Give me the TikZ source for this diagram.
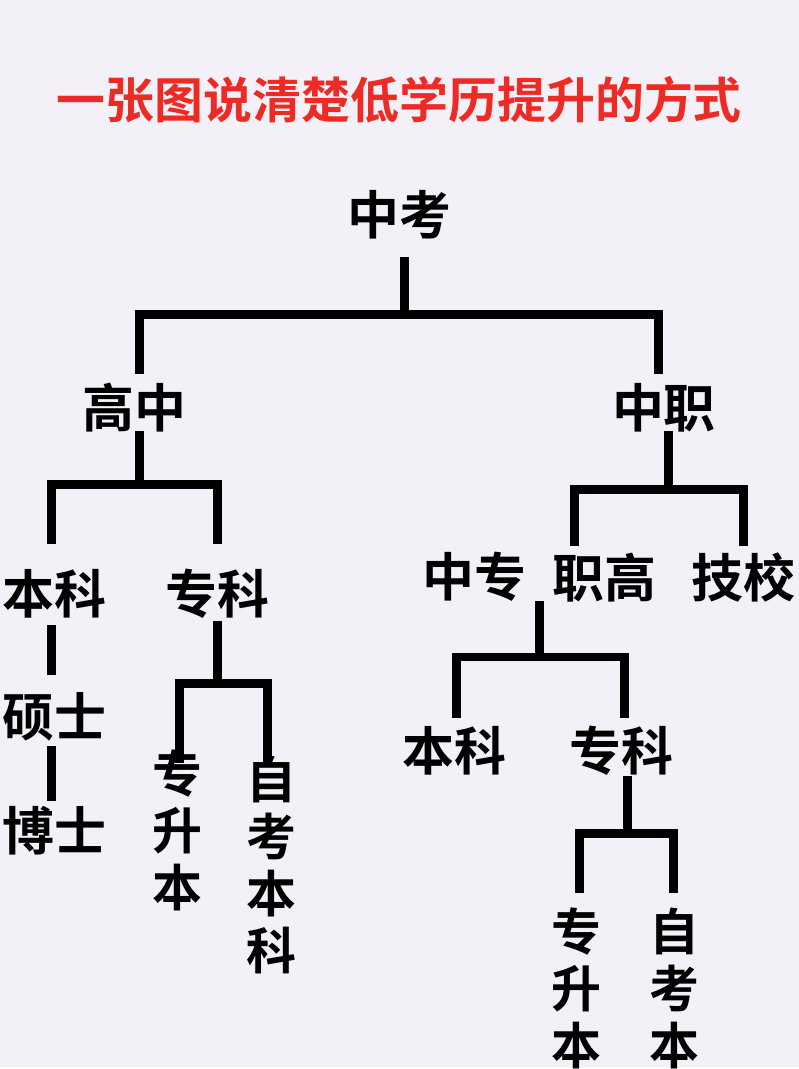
\documentclass[tikz,border=0pt]{standalone}
\usepackage{fontspec}
\setmainfont{Noto Sans CJK SC}
\newfontfamily\cjkbold{Noto Sans CJK SC Bold}
\usetikzlibrary{positioning}
\definecolor{bgcol}{HTML}{F3F0F8}
\definecolor{titlered}{HTML}{EE2A24}
\tikzset{
  label/.style={font=\cjkbold\fontsize{52}{60}\selectfont, inner sep=0pt},
  vlabel/.style={label, align=center, font=\cjkbold\fontsize{50}{57}\selectfont},
  branch/.style={line width=9pt, line cap=rect}
}
\begin{document}
\begin{tikzpicture}[x=1pt,y=-1pt]
    \fill[bgcol] (0,0) rectangle (800,1069);
    \node[font=\cjkbold\fontsize{49}{56}\selectfont, text=titlered] (title) at (400,100) {一张图说清楚低学历提升的方式};
    % top level
    \node[label] (zk) at (400,215) {中考};
    \node[label] (gz) at (135,408) {高中};
    \node[label] (zz) at (665,408) {中职};
    \coordinate (zkt) at (405,262);
    \coordinate (zkj) at (405,315);
    \draw[branch] (zkt) -- (zkj);
    \draw[branch] (140,370) |- (zkj) -| (660,370);
    % gaozhong branch
    \node[label] (bk1) at (55,595) {本科};
    \node[label] (zk1) at (218,595) {专科};
    \node[label] (ss) at (55,718) {硕士};
    \node[label] (bs) at (55,832) {博士};
    \coordinate (gzj) at (140,485);
    \draw[branch] (140,436) -- (gzj);
    \draw[branch] (52,540) |- (gzj) -| (218,540);
    \draw[branch] (52,630) -- (52,672);
    \draw[branch] (52,752) -- (52,798);
    \node[vlabel] (zsb1) at (178,832) {专\\升\\本};
    \node[vlabel] (zkbk) at (272,866) {自\\考\\本\\科};
    \coordinate (zk1j) at (218,685);
    \draw[branch] (218,626) -- (zk1j);
    \draw[branch] (180,760) |- (zk1j) -| (268,760);
    % zhongzhi branch
    \node[label] (zhz) at (475,578) {中专};
    \node[label] (zg) at (605,578) {职高};
    \node[label] (jx) at (745,578) {技校};
    \coordinate (zzj) at (670,490);
    \draw[branch] (670,436) -- (zzj);
    \draw[branch] (575,542) |- (zzj) -| (745,542);
    \node[label] (bk2) at (455,752) {本科};
    \node[label] (zk2) at (622,752) {专科};
    \coordinate (zgj) at (540,658);
    \draw[branch] (540,606) -- (zgj);
    \draw[branch] (457,715) |- (zgj) -| (625,715);
    \node[vlabel] (zsb2) at (577,990) {专\\升\\本};
    \node[vlabel] (zkb2) at (675,990) {自\\考\\本};
    \coordinate (zk2j) at (628,835);
    \draw[branch] (628,782) -- (zk2j);
    \draw[branch] (580,890) |- (zk2j) -| (675,890);
\end{tikzpicture}
\end{document}
